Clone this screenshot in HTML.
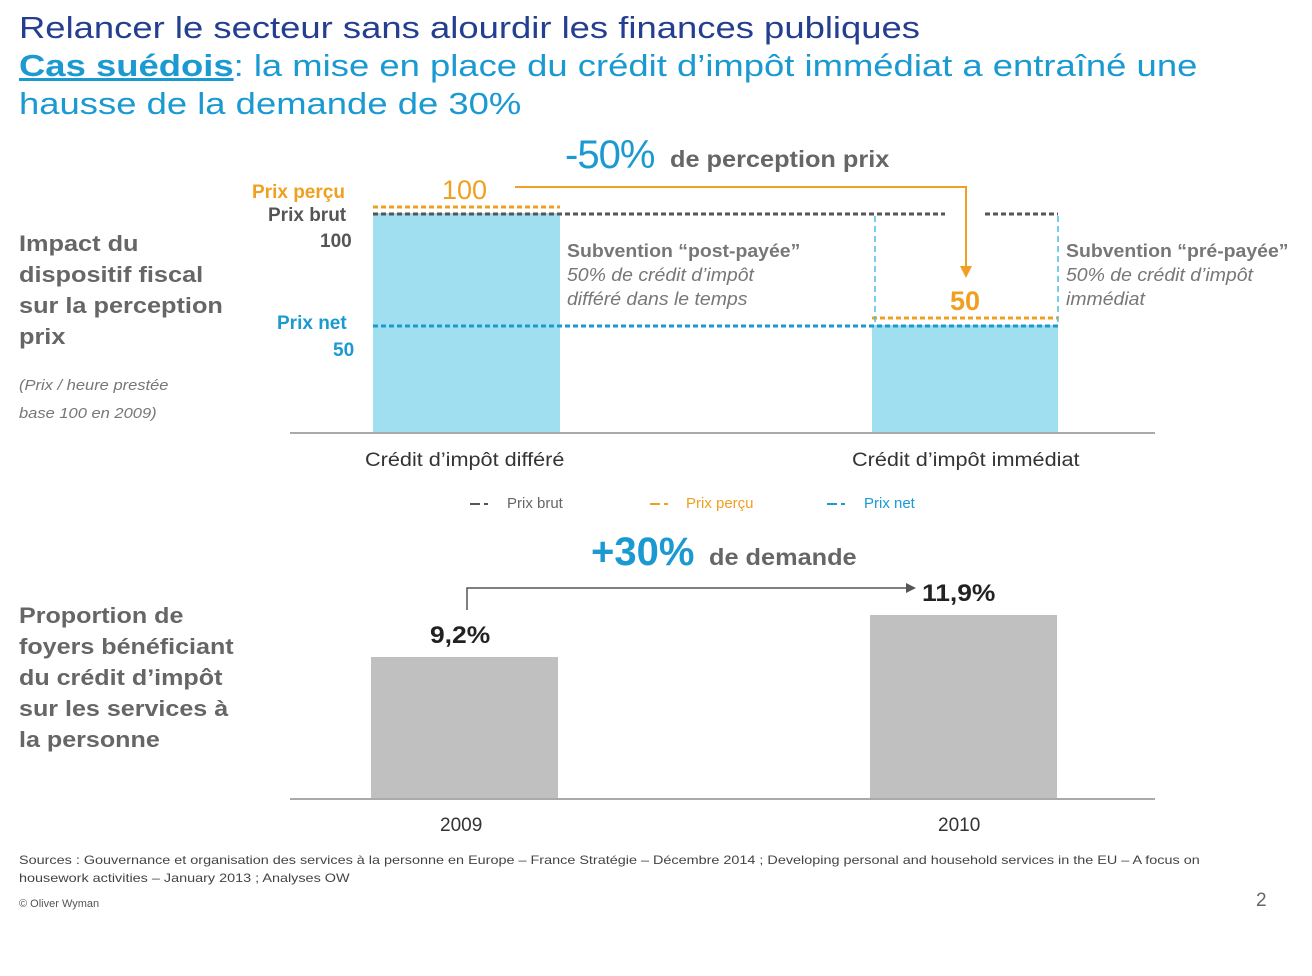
<!DOCTYPE html>
<html><head><meta charset="utf-8"><style>
body{margin:0;width:1312px;height:976px;background:#fff;position:relative;overflow:hidden;font-family:"Liberation Sans",sans-serif}
.t{position:absolute;white-space:nowrap;transform-origin:0 0}
</style></head><body>
<div class="t" style="left:19px;top:10px;font-size:31px;color:#243f8f;transform:scaleX(1.175)">Relancer le secteur sans alourdir les finances publiques</div>
<div class="t" style="left:19px;top:48px;font-size:31px;color:#1b9ad2;transform:scaleX(1.175)"><b style="text-decoration:underline">Cas suédois</b>: la mise en place du crédit d’impôt immédiat a entraîné une</div>
<div class="t" style="left:19px;top:86px;font-size:31px;color:#1b9ad2;transform:scaleX(1.175)">hausse de la demande de 30%</div>

<div class="t" style="left:565px;top:133px;color:#1b9ad2;font-size:40px;letter-spacing:-1px">-50%</div>
<div class="t" style="left:670px;top:146px;color:#666;font-size:23px;font-weight:bold;transform:scaleX(1.1)">de perception prix</div>

<div class="t" style="left:19px;top:228px;font-size:22px;font-weight:bold;color:#666;line-height:31px;transform:scaleX(1.15)">Impact du<br>dispositif fiscal<br>sur la perception<br>prix</div>
<div class="t" style="left:19px;top:372px;font-size:15px;font-style:italic;color:#777;line-height:28px;transform:scaleX(1.1)">(Prix / heure prestée<br>base 100 en 2009)</div>

<svg style="position:absolute;left:0;top:0" width="1312" height="976">
<rect x="373" y="213" width="187" height="220" fill="#a0dff0"/>
<rect x="872" y="325" width="186" height="108" fill="#a0dff0"/>
<line x1="290" y1="433" x2="1155" y2="433" stroke="#aaa" stroke-width="2"/>
<line x1="373" y1="207" x2="560" y2="207" stroke="#f0a020" stroke-width="3" stroke-dasharray="5,3"/>
<line x1="373" y1="214" x2="945" y2="214" stroke="#555" stroke-width="3" stroke-dasharray="5,3"/>
<line x1="985" y1="214" x2="1058" y2="214" stroke="#555" stroke-width="3" stroke-dasharray="5,3"/>
<line x1="872" y1="318" x2="1058" y2="318" stroke="#f0a020" stroke-width="3" stroke-dasharray="5,3"/>
<line x1="373" y1="326" x2="1058" y2="326" stroke="#1b9ad2" stroke-width="3" stroke-dasharray="5,3"/>
<line x1="875" y1="216" x2="875" y2="324" stroke="#4bbde0" stroke-width="1.5" stroke-dasharray="6,4"/>
<line x1="1058" y1="216" x2="1058" y2="324" stroke="#4bbde0" stroke-width="1.5" stroke-dasharray="6,4"/>
<polyline points="515,187 966,187 966,270" fill="none" stroke="#f0a020" stroke-width="2"/>
<polygon points="960,266 972,266 966,278" fill="#f0a020"/>
<line x1="470" y1="504" x2="480" y2="504" stroke="#555" stroke-width="2"/><line x1="484" y1="504" x2="488" y2="504" stroke="#555" stroke-width="2"/>
<line x1="650" y1="504" x2="660" y2="504" stroke="#f0a020" stroke-width="2"/><line x1="664" y1="504" x2="668" y2="504" stroke="#f0a020" stroke-width="2"/>
<line x1="827" y1="504" x2="837" y2="504" stroke="#1b9ad2" stroke-width="2"/><line x1="841" y1="504" x2="845" y2="504" stroke="#1b9ad2" stroke-width="2"/>
<rect x="371" y="657" width="187" height="142" fill="#c0c0c0"/>
<rect x="870" y="615" width="187" height="184" fill="#c0c0c0"/>
<line x1="290" y1="799" x2="1155" y2="799" stroke="#aaa" stroke-width="2"/>
<polyline points="467,610 467,588 910,588" fill="none" stroke="#555" stroke-width="1.5"/>
<polygon points="906,583 916,588 906,593" fill="#555"/>
</svg>

<div class="t" style="left:252px;top:182px;font-size:19px;font-weight:bold;color:#f0a020">Prix perçu</div>
<div class="t" style="left:442px;top:175px;font-size:27px;color:#f0a020">100</div>
<div class="t" style="left:268px;top:205px;font-size:19px;font-weight:bold;color:#555">Prix brut</div>
<div class="t" style="left:320px;top:231px;font-size:19px;font-weight:bold;color:#555">100</div>
<div class="t" style="left:277px;top:313px;font-size:19px;font-weight:bold;color:#1b9ad2">Prix net</div>
<div class="t" style="left:333px;top:340px;font-size:19px;font-weight:bold;color:#1b9ad2">50</div>
<div class="t" style="left:950px;top:286px;font-size:27px;font-weight:bold;color:#f0a020">50</div>
<div class="t" style="left:567px;top:239px;font-size:18px;color:#777;line-height:24px;transform:scaleX(1.08)"><b>Subvention “post-payée”</b><br><i>50% de crédit d’impôt<br>différé dans le temps</i></div>
<div class="t" style="left:1066px;top:239px;font-size:18px;color:#777;line-height:24px;transform:scaleX(1.08)"><b>Subvention “pré-payée”</b><br><i>50% de crédit d’impôt<br>immédiat</i></div>
<div class="t" style="left:365px;top:450px;font-size:19px;color:#333;transform:scaleX(1.14)">Crédit d’impôt différé</div>
<div class="t" style="left:852px;top:450px;font-size:19px;color:#333;transform:scaleX(1.14)">Crédit d’impôt immédiat</div>
<div class="t" style="left:507px;top:495px;font-size:15px;color:#666">Prix brut</div>
<div class="t" style="left:686px;top:495px;font-size:15px;color:#f0a020">Prix perçu</div>
<div class="t" style="left:864px;top:495px;font-size:15px;color:#1b9ad2">Prix net</div>

<div class="t" style="left:591px;top:530px;font-size:40px;color:#1b9ad2;font-weight:bold">+30%</div>
<div class="t" style="left:709px;top:544px;font-size:23px;font-weight:bold;color:#666;transform:scaleX(1.1)">de demande</div>
<div class="t" style="left:19px;top:600px;font-size:22px;font-weight:bold;color:#666;line-height:31px;transform:scaleX(1.14)">Proportion de<br>foyers bénéficiant<br>du crédit d’impôt<br>sur les services à<br>la personne</div>
<div class="t" style="left:430px;top:622px;font-size:24px;font-weight:bold;color:#222;transform:scaleX(1.1)">9,2%</div>
<div class="t" style="left:922px;top:580px;font-size:24px;font-weight:bold;color:#222;transform:scaleX(1.1)">11,9%</div>
<div class="t" style="left:440px;top:815px;font-size:19px;color:#333">2009</div>
<div class="t" style="left:938px;top:815px;font-size:19px;color:#333">2010</div>

<div class="t" style="left:19px;top:851px;font-size:12px;color:#444;line-height:18px;transform:scaleX(1.2)">Sources : Gouvernance et organisation des services à la personne en Europe – France Stratégie – Décembre 2014 ; Developing personal and household services in the EU – A focus on<br>housework activities – January 2013 ; Analyses OW</div>
<div class="t" style="left:19px;top:898px;font-size:11px;color:#555">© Oliver Wyman</div>
<div class="t" style="left:1256px;top:890px;font-size:19px;color:#666">2</div>
</body></html>
